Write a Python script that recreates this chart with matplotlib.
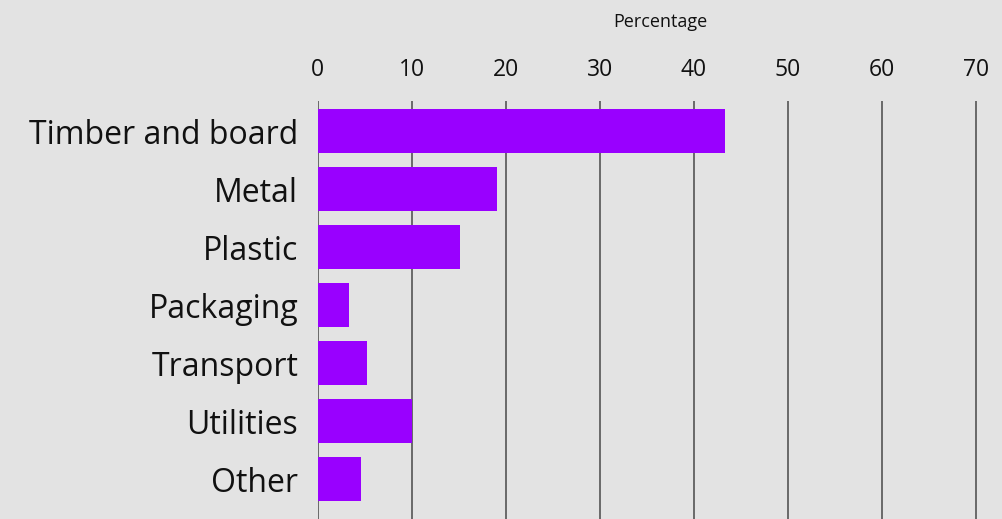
import numpy as np
import matplotlib
matplotlib.use("Agg")
from matplotlib import pyplot as plt

# shares of material spend
categories = ["Timber and board", "Metal", "Plastic", "Packaging", "Transport", "Utilities", "Other"]
percentage = [43.3, 19.1, 15.1, 3.3, 5.25, 10.0, 4.6]
xticks = [0, 10, 20, 30, 40, 50, 60, 70]

plt.rcParams['font.family'] = ['Open Sans', 'DejaVu Sans']

bg = "#e3e3e3"
txt = "#111111"
fig = plt.figure(figsize=(10.03, 5.19), dpi=100, facecolor=bg)
# axes placed in pixel terms: left 318, top 101, right edge of figure, bottom edge
W, H = 1003, 519
ax = fig.add_axes([317.7 / W, 0, 1 - 317.7 / W, (H - 101) / H], facecolor=bg)

y = np.arange(len(categories))
ax.barh(y, percentage, height=0.75, color="#9900ff", zorder=3)

ax.set_ylim(6 + 40 / 58, -30 / 58)
ax.set_xlim(0, (W - 317.7) / 9.4)
ax.set_xticks(xticks)
ax.xaxis.tick_top()
ax.xaxis.set_label_position("top")
ax.tick_params(axis="x", length=0, pad=14, labelsize=16.5, labelcolor=txt)
ax.set_xlabel("Percentage", fontsize=13, labelpad=22, color=txt)

ax.set_yticks(y)
ax.set_yticklabels(categories, fontsize=23, color=txt)
ax.tick_params(axis="y", length=0, pad=14)

ax.grid(axis="x", color="#555555", linewidth=1.2, zorder=0)
for s in ax.spines.values():
    s.set_visible(False)

fig.savefig("out.png", dpi=100, facecolor=bg)
